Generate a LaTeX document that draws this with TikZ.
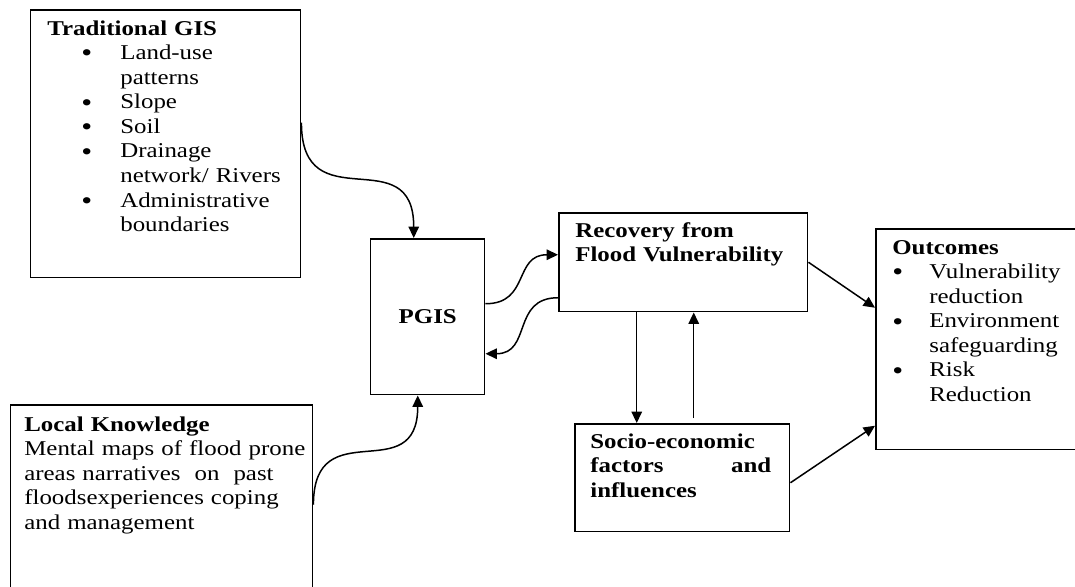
\documentclass[tikz,border=0pt]{standalone}
\usepackage{fontspec}
\setmainfont{Liberation Serif}[FakeStretch=1.18]
\usetikzlibrary{positioning,arrows.meta}
\newcommand{\bigdot}{\smash{\raisebox{-1.3pt}{\fontsize{15}{14}\selectfont\textbullet}}}
\newcommand{\gisbullet}{\hspace*{0.68cm}\makebox[0.78cm][l]{\bigdot}}
\newcommand{\gisindent}{\hspace*{1.46cm}}
\newcommand{\outbullet}{\makebox[0.74cm][l]{\bigdot}}
\newcommand{\outindent}{\hspace*{0.74cm}}
\tikzset{
  flowarrow/.style={-{Triangle[length=6.5pt, width=6pt]}, line width=0.85pt},
  panel/.style={draw, line width=0.85pt, anchor=north west, inner sep=0pt},
  paneltext/.style={anchor=base west, align=left, inner sep=0pt, text width=6cm},
  wave/.style={looseness=1.6}
}

\begin{document}
\begin{tikzpicture}[x=0.02cm, y=-0.02cm, every node/.style={font=\fontsize{12}{14}\selectfont}]
  \useasboundingbox (0,0) rectangle (1075,586);
  % boxes
  \node[panel, minimum width=5.4cm, minimum height=5.36cm] (tgis) at (30,9) {};
  \node[panel, minimum width=6.04cm, minimum height=4cm] (lk) at (10,404) {};
  \node[panel, minimum width=2.28cm, minimum height=3.12cm, font=\bfseries\fontsize{12}{14}\selectfont] (pgis) at (370,238) {PGIS};
  \node[panel, minimum width=4.98cm, minimum height=1.98cm] (recov) at (558,212) {};
  \node[panel, minimum width=4.3cm, minimum height=2.16cm] (socio) at (574,423) {};
  \node[panel, minimum width=4.2cm, minimum height=4.42cm] (outc) at (875,228) {};
  % texts
  \node[paneltext] (tgistxt) at (47,35) {\textbf{Traditional GIS}\\
    \gisbullet Land-use\\
    \gisindent patterns\\
    \gisbullet Slope\\
    \gisbullet Soil\\
    \gisbullet Drainage\\
    \gisindent network/ Rivers\\
    \gisbullet Administrative\\
    \gisindent boundaries};
  \node[paneltext] (lktxt) at (24,431) {\textbf{Local Knowledge}\\
    Mental maps of flood prone\\
    areas narratives\ \ on\ \ past\\
    floodsexperiences coping\\
    and management};
  \node[paneltext] (recovtxt) at (575,237) {\textbf{Recovery from}\\
    \textbf{Flood Vulnerability}};
  \node[paneltext, font=\bfseries\fontsize{12}{14}\selectfont] (sociotxt) at (590,448) {Socio-economic\\
    \makebox[3.62cm]{factors\hfill and}\\
    influences};
  \node[paneltext] (outctxt) at (892,254) {\textbf{Outcomes}\\
    \outbullet Vulnerability\\
    \outindent reduction\\
    \outbullet Environment\\
    \outindent safeguarding\\
    \outbullet Risk\\
    \outindent Reduction};
  % connectors
  \draw[flowarrow] ([yshift=0.42cm]tgis.east) to[out=-90, in=90, wave] ([xshift=-0.28cm]pgis.north);
  \draw[flowarrow] (lk.east) to[out=90, in=-90, wave] ([xshift=-0.2cm]pgis.south);
  \draw[flowarrow] ([yshift=0.26cm]pgis.east) to[out=0, in=180, looseness=1.3] ([yshift=0.15cm]recov.west);
  \draw[flowarrow] ([yshift=-0.71cm]recov.west) to[out=180, in=0, looseness=1.3] ([yshift=-0.74cm]pgis.east);
  \draw[flowarrow] ([xshift=-0.93cm]recov.south) -- ([xshift=-0.93cm]recov.south |- socio.north);
  \draw[flowarrow, shorten <=2.8pt] ([xshift=0.23cm]socio.north) -- ([xshift=0.23cm]socio.north |- recov.south);
  \draw[flowarrow] (recov.east) -- ([yshift=0.63cm]outc.west);
  \draw[flowarrow] ([yshift=-0.1cm]socio.east) -- ([yshift=-1.73cm]outc.west);
\end{tikzpicture}
\end{document}
